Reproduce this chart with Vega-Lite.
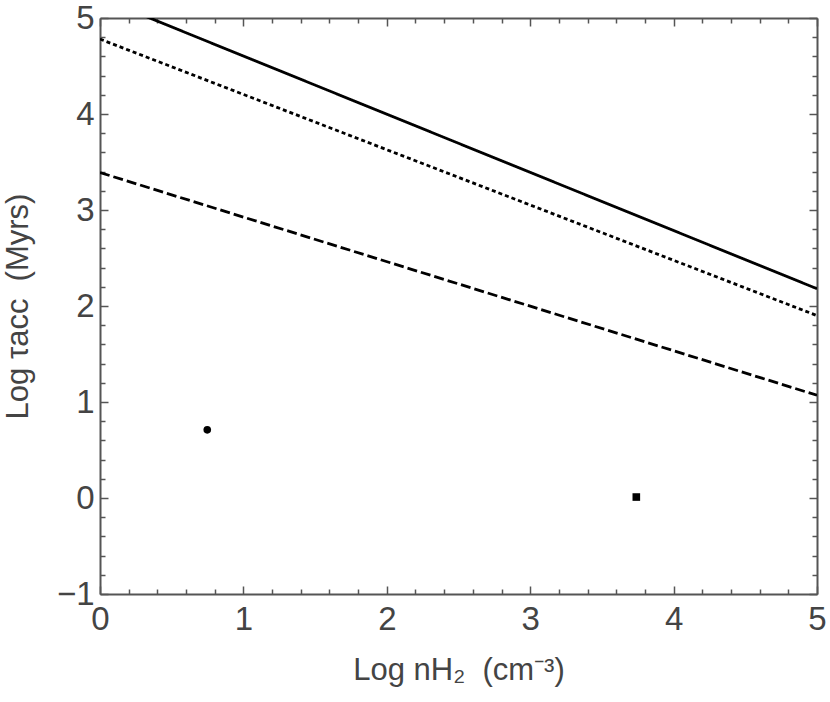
{
  "$schema": "https://vega.github.io/schema/vega-lite/v6.json",
  "width": 717,
  "height": 576,
  "autosize": {"type": "none"},
  "padding": {"left": 100, "top": 18, "right": 13, "bottom": 108},
  "background": "white",
  "config": {
    "view": {"stroke": null},
    "font": "Liberation Sans",
    "axis": {
      "grid": false,
      "domainColor": "#555555",
      "domainWidth": 2,
      "tickColor": "#555555",
      "tickWidth": 1.5,
      "labelFont": "Liberation Sans",
      "labelFontSize": 33,
      "labelColor": "#444444",
      "titleFont": "Liberation Sans",
      "titleFontSize": 31,
      "titleFontWeight": "normal",
      "titleColor": "#444444"
    }
  },
  "datasets": {
    "lines": [
      {"series": "solid", "logn": 0, "logtau": 5.21},
      {"series": "solid", "logn": 5, "logtau": 2.18},
      {"series": "dotted", "logn": 0, "logtau": 4.78},
      {"series": "dotted", "logn": 5, "logtau": 1.90},
      {"series": "dashed", "logn": 0, "logtau": 3.39},
      {"series": "dashed", "logn": 5, "logtau": 1.07}
    ],
    "points": [
      {"obj": "circle", "logn": 0.748, "logtau": 0.71},
      {"obj": "square", "logn": 3.74, "logtau": 0.01}
    ]
  },
  "resolve": {"axis": {"x": "independent", "y": "independent"}},
  "layer": [
    {
      "data": {"name": "lines"},
      "mark": {"type": "line", "clip": true, "color": "black", "strokeWidth": 2.8},
      "encoding": {
        "x": {
          "field": "logn", "type": "quantitative",
          "scale": {"domain": [0, 5], "nice": false, "zero": false},
          "axis": {
            "orient": "bottom",
            "title": "Log nH₂\u00a0 (cm⁻³)",
            "titlePadding": 16,
            "values": [0,0.2,0.4,0.6,0.8,1,1.2,1.4,1.6,1.8,2,2.2,2.4,2.6,2.8,3,3.2,3.4,3.6,3.8,4,4.2,4.4,4.6,4.8,5],
            "labelExpr": "abs(datum.value - round(datum.value)) < 0.001 ? format(datum.value, 'd') : ''",
            "tickSize": {"condition": {"test": "abs(datum.value - round(datum.value)) < 0.001", "value": -8}, "value": -5},
            "labelPadding": 17,
            "labelFlush": false,
            "labelOverlap": false
          }
        },
        "y": {
          "field": "logtau", "type": "quantitative",
          "scale": {"domain": [-1, 5], "nice": false, "zero": false},
          "axis": {
            "orient": "left",
            "title": "Log τacc\u00a0 (Myrs)",
            "titlePadding": 22,
            "values": [-1,-0.8,-0.6,-0.4,-0.2,0,0.2,0.4,0.6,0.8,1,1.2,1.4,1.6,1.8,2,2.2,2.4,2.6,2.8,3,3.2,3.4,3.6,3.8,4,4.2,4.4,4.6,4.8,5],
            "labelExpr": "abs(datum.value - round(datum.value)) < 0.001 ? format(datum.value, 'd') : ''",
            "tickSize": {"condition": {"test": "abs(datum.value - round(datum.value)) < 0.001", "value": -8}, "value": -5},
            "labelPadding": 14,
            "labelFlush": false,
            "labelOverlap": false
          }
        },
        "detail": {"field": "series"},
        "strokeDash": {
          "field": "series", "type": "nominal",
          "scale": {"domain": ["solid", "dotted", "dashed"], "range": [[1, 0], [4, 3], [10, 4]]},
          "legend": null
        }
      }
    },
    {
      "data": {"name": "points"},
      "mark": {"type": "point", "filled": true, "color": "black", "opacity": 1, "size": 58},
      "encoding": {
        "x": {
          "field": "logn", "type": "quantitative",
          "axis": {
            "orient": "top",
            "title": null,
            "labels": false,
            "values": [0,0.2,0.4,0.6,0.8,1,1.2,1.4,1.6,1.8,2,2.2,2.4,2.6,2.8,3,3.2,3.4,3.6,3.8,4,4.2,4.4,4.6,4.8,5],
            "tickSize": {"condition": {"test": "abs(datum.value - round(datum.value)) < 0.001", "value": -8}, "value": -5}
          }
        },
        "y": {
          "field": "logtau", "type": "quantitative",
          "axis": {
            "orient": "right",
            "title": null,
            "labels": false,
            "values": [-1,-0.8,-0.6,-0.4,-0.2,0,0.2,0.4,0.6,0.8,1,1.2,1.4,1.6,1.8,2,2.2,2.4,2.6,2.8,3,3.2,3.4,3.6,3.8,4,4.2,4.4,4.6,4.8,5],
            "tickSize": {"condition": {"test": "abs(datum.value - round(datum.value)) < 0.001", "value": -8}, "value": -5}
          }
        },
        "shape": {
          "field": "obj", "type": "nominal",
          "scale": {"domain": ["circle", "square"], "range": ["circle", "square"]},
          "legend": null
        }
      }
    }
  ]
}
